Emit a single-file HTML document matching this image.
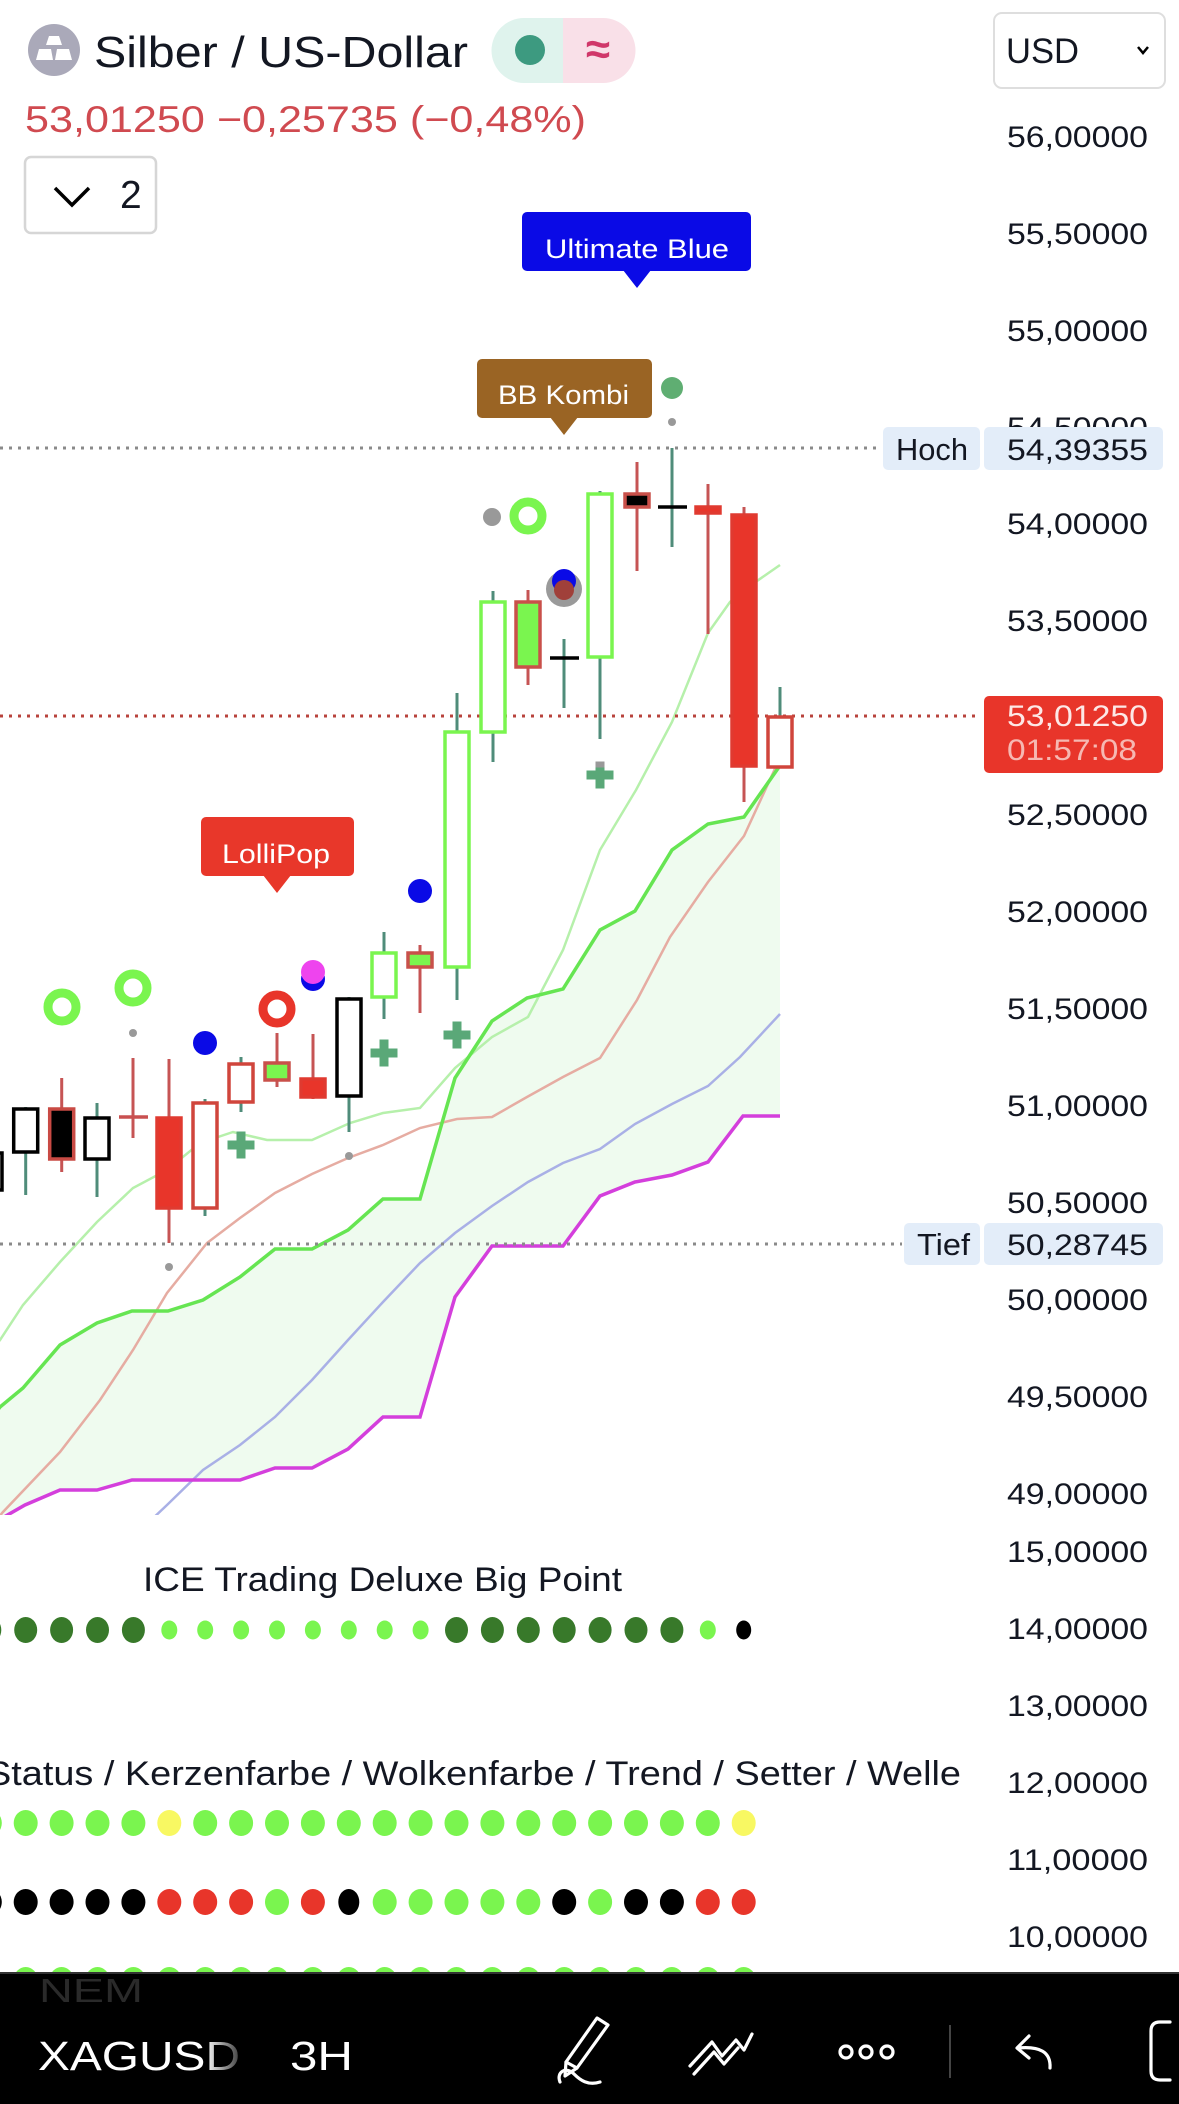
<!DOCTYPE html>
<html><head><meta charset="utf-8"><style>
html,body{margin:0;padding:0;background:#fff;}
svg{display:block;}
text{font-family:"Liberation Sans",sans-serif;}
</style></head><body>
<svg width="1179" height="2104" viewBox="0 0 1179 2104" xmlns="http://www.w3.org/2000/svg">
<defs>
<clipPath id="pane"><rect x="0" y="0" width="1000" height="1515"/></clipPath>
<linearGradient id="fade" gradientUnits="userSpaceOnUse" x1="205" y1="0" x2="245" y2="0">
<stop offset="0" stop-color="#fff"/><stop offset="1" stop-color="#222"/></linearGradient>
</defs>
<rect width="1179" height="2104" fill="#fff"/>

<!-- main pane lines -->
<g clip-path="url(#pane)">
<polygon fill="#effbef" points="-10,1420 0,1407 23,1388 60,1345 97,1323 132,1311 168,1311 203,1300 240,1277 275,1249 312,1249 348,1230 383,1199 420,1199 455,1078 492,1021 527,998 563,989 600,930 635,911 672,850 708,824 744,817 779,767 780,767 780,1116 743,1116 708,1162 672,1175 635,1182 600,1196 563,1246 492,1246 455,1297 420,1417 383,1417 348,1449 312,1468 275,1468 240,1480 132,1480 97,1490 60,1490 25,1505 -10,1525"/>
<polyline fill="none" stroke="#b6f0ab" stroke-width="2.5" points="-20,1365 0,1340 23,1305 60,1262 97,1222 133,1188 167,1170 200,1143 233,1132 267,1140 312,1140 350,1123 383,1113 420,1108 455,1068 492,1037 528,1017 563,950 600,850 636,790 672,722 708,633 730,602 744,590 780,565"/>
<polyline fill="none" stroke="#e6aca2" stroke-width="2.5" points="-20,1540 3,1512 60,1452 100,1400 133,1350 167,1293 207,1243 240,1218 275,1193 312,1174 348,1158 383,1145 420,1128 457,1119 492,1117 527,1097 563,1077 600,1058 637,1000 670,937 708,882 744,836 779,760"/>
<polyline fill="none" stroke="#a9b0e6" stroke-width="2.5" points="130,1540 167,1505 203,1470 240,1445 275,1417 312,1380 348,1340 383,1302 420,1263 455,1233 492,1206 528,1182 563,1163 600,1149 635,1124 672,1104 708,1086 740,1057 780,1014"/>
<polyline fill="none" stroke="#d43fdc" stroke-width="3.5" points="-10,1525 25,1505 60,1490 97,1490 132,1480 240,1480 275,1468 312,1468 348,1449 383,1417 420,1417 455,1297 492,1246 563,1246 600,1196 635,1182 672,1175 708,1162 743,1116 780,1116"/>
<polyline fill="none" stroke="#66e552" stroke-width="3.5" points="-10,1420 0,1407 23,1388 60,1345 97,1323 132,1311 168,1311 203,1300 240,1277 275,1249 312,1249 348,1230 383,1199 420,1199 455,1078 492,1021 527,998 563,989 600,930 635,911 672,850 708,824 744,817 779,767"/>
</g>

<!-- dotted lines -->
<line x1="0" y1="448" x2="880" y2="448" stroke="#8a8a8a" stroke-width="3" stroke-dasharray="3 6"/>
<line x1="0" y1="1244" x2="902" y2="1244" stroke="#8a8a8a" stroke-width="3" stroke-dasharray="3 6"/>
<line x1="0" y1="716" x2="976" y2="716" stroke="#b8433c" stroke-width="3" stroke-dasharray="3 6"/>

<!-- wicks -->
<g stroke-width="3">
<line x1="-10" y1="1140" x2="-10" y2="1200" stroke="#4f8c7a"/>
<line x1="25.7" y1="1107" x2="25.7" y2="1195" stroke="#4f8c7a"/>
<line x1="61.7" y1="1078" x2="61.7" y2="1172" stroke="#c65454"/>
<line x1="97" y1="1103" x2="97" y2="1197" stroke="#4f8c7a"/>
<line x1="133" y1="1058" x2="133" y2="1138" stroke="#c65454"/>
<line x1="169" y1="1059" x2="169" y2="1243" stroke="#c65454"/>
<line x1="205" y1="1099" x2="205" y2="1216" stroke="#4f8c7a"/>
<line x1="241" y1="1057" x2="241" y2="1112" stroke="#4f8c7a"/>
<line x1="277" y1="1033" x2="277" y2="1087" stroke="#c65454"/>
<line x1="313" y1="1034" x2="313" y2="1099" stroke="#c65454"/>
<line x1="349" y1="997" x2="349" y2="1132" stroke="#4f8c7a"/>
<line x1="384" y1="932" x2="384" y2="1019" stroke="#4f8c7a"/>
<line x1="420" y1="945" x2="420" y2="1013" stroke="#c65454"/>
<line x1="457" y1="693" x2="457" y2="1000" stroke="#4f8c7a"/>
<line x1="493" y1="591" x2="493" y2="762" stroke="#4f8c7a"/>
<line x1="528" y1="590" x2="528" y2="685" stroke="#c65454"/>
<line x1="564" y1="639" x2="564" y2="708" stroke="#4f8c7a"/>
<line x1="600" y1="491" x2="600" y2="739" stroke="#4f8c7a"/>
<line x1="637" y1="462" x2="637" y2="571" stroke="#c65454"/>
<line x1="672" y1="448" x2="672" y2="547" stroke="#4f8c7a"/>
<line x1="708" y1="484" x2="708" y2="634" stroke="#c65454"/>
<line x1="744" y1="507" x2="744" y2="802" stroke="#c65454"/>
<line x1="780" y1="687" x2="780" y2="717" stroke="#4f8c7a"/>
</g>

<!-- bodies -->
<g stroke-width="3.5">
<rect x="-22" y="1153" width="24" height="37" fill="#fff" stroke="#000"/>
<rect x="13.7" y="1109" width="24" height="43" fill="#fff" stroke="#000"/>
<rect x="49.7" y="1109" width="24" height="50" fill="#000" stroke="#c94a44"/>
<rect x="85" y="1118" width="24" height="41" fill="#fff" stroke="#000"/>
<line x1="119" y1="1117" x2="148" y2="1117" stroke="#c95050"/>
<rect x="157" y="1118" width="24" height="90" fill="#e8352a" stroke="#e03a30"/>
<rect x="193" y="1103" width="24" height="105" fill="#fff" stroke="#d0453c"/>
<rect x="229" y="1064" width="24" height="38" fill="#fff" stroke="#d0453c"/>
<rect x="265" y="1063" width="24" height="17" fill="#7af54f" stroke="#c9504a"/>
<rect x="301" y="1079" width="24" height="18" fill="#e8352a" stroke="#e03a30"/>
<rect x="337" y="999" width="24" height="97" fill="#fff" stroke="#000"/>
<rect x="372" y="953" width="24" height="44" fill="#fff" stroke="#7af54f"/>
<rect x="408" y="953" width="24" height="14" fill="#7af54f" stroke="#c9504a"/>
<rect x="445" y="732" width="24" height="235" fill="#fff" stroke="#7af54f"/>
<rect x="481" y="602" width="24" height="130" fill="#fff" stroke="#7af54f"/>
<rect x="516" y="602" width="24" height="65" fill="#7af54f" stroke="#c9504a"/>
<line x1="550" y1="658" x2="579" y2="658" stroke="#000"/>
<rect x="588" y="494" width="24" height="163" fill="#fff" stroke="#7af54f"/>
<rect x="625" y="494" width="24" height="13" fill="#000" stroke="#c9504a"/>
<line x1="658" y1="507" x2="687" y2="507" stroke="#000"/>
<rect x="696" y="507" width="24" height="6" fill="#e8352a" stroke="#e03a30"/>
<rect x="732" y="515" width="24" height="251" fill="#e8352a" stroke="#e03a30"/>
<rect x="768" y="717" width="24" height="50" fill="#fff" stroke="#d0453c"/>
</g>

<!-- crosses -->
<g fill="#5aa878">
<rect x="227.5" y="1140.5" width="27" height="9"/><rect x="236.5" y="1131.5" width="9" height="27"/>
<rect x="370.5" y="1048.5" width="27" height="9"/><rect x="379.5" y="1039.5" width="9" height="27"/>
<rect x="443.5" y="1030.5" width="27" height="9"/><rect x="452.5" y="1021.5" width="9" height="27"/>
<rect x="586.5" y="770.5" width="27" height="9"/><rect x="595.5" y="761.5" width="9" height="27"/>
</g>
<rect x="595.5" y="761.5" width="9" height="6" fill="#999"/>

<!-- markers -->
<circle cx="62" cy="1007" r="14" fill="none" stroke="#7af54f" stroke-width="9"/>
<circle cx="133" cy="988" r="14" fill="none" stroke="#7af54f" stroke-width="9"/>
<circle cx="133" cy="1033" r="4" fill="#999"/>
<circle cx="205" cy="1043" r="12" fill="#0a0ae6"/>
<circle cx="169" cy="1267" r="4" fill="#999"/>
<circle cx="277" cy="1009" r="14" fill="none" stroke="#e8352a" stroke-width="9"/>
<circle cx="313" cy="979" r="12" fill="#0a0ae6"/>
<circle cx="313" cy="972" r="12" fill="#ee44ee"/>
<circle cx="349" cy="1156" r="4" fill="#999"/>
<circle cx="420" cy="891" r="12" fill="#0a0ae6"/>
<circle cx="492" cy="517" r="9" fill="#999"/>
<circle cx="528" cy="516" r="14" fill="none" stroke="#7af54f" stroke-width="9"/>
<circle cx="564" cy="589" r="18" fill="#9a9a9a"/>
<circle cx="564" cy="581" r="12" fill="#0a0ae6"/>
<circle cx="564" cy="590" r="10" fill="#a0403a"/>
<circle cx="672" cy="388" r="11" fill="#5fae72"/>
<circle cx="672" cy="422" r="4" fill="#999"/>

<!-- annotations -->
<rect x="522" y="212" width="229" height="59" rx="5" fill="#0a0ae6"/>
<polygon points="623,270 651,270 637,288" fill="#0a0ae6"/>
<text x="545" y="258" font-size="27" fill="#fff" textLength="184" lengthAdjust="spacingAndGlyphs">Ultimate Blue</text>
<rect x="477" y="359" width="175" height="59" rx="5" fill="#9a6424"/>
<polygon points="550,417 578,417 564,435" fill="#9a6424"/>
<text x="498" y="404" font-size="27" fill="#fff" textLength="131" lengthAdjust="spacingAndGlyphs">BB Kombi</text>
<rect x="201" y="817" width="153" height="59" rx="5" fill="#e8372a"/>
<polygon points="263,875 291,875 277,893" fill="#e8372a"/>
<text x="222" y="863" font-size="27" fill="#fff" textLength="108" lengthAdjust="spacingAndGlyphs">LolliPop</text>

<!-- header -->
<circle cx="54" cy="50" r="26" fill="#aaa9b9"/>
<polygon points="49,36 59,36 62,45 46,45" fill="#fff"/>
<polygon points="39,49 51,49 53,60 36,60" fill="#fff"/>
<polygon points="57,49 69,49 72,60 55,60" fill="#fff"/>
<text x="94" y="67" font-size="44" fill="#131722" textLength="374" lengthAdjust="spacingAndGlyphs">Silber / US-Dollar</text>
<path d="M524,18 H563 V83 H524 A32.5,32.5 0 0 1 524,18 Z" fill="#dff3ed"/>
<path d="M563,18 H603 A32.5,32.5 0 0 1 603,83 H563 Z" fill="#f9e0e8"/>
<circle cx="530" cy="50" r="15" fill="#3d9a80"/>
<text x="598" y="64" font-size="44" font-weight="bold" fill="#d0386a" text-anchor="middle">≈</text>
<text x="25" y="132" font-size="37" fill="#d04a50" textLength="561" lengthAdjust="spacingAndGlyphs">53,01250 −0,25735 (−0,48%)</text>
<rect x="25" y="157" width="131" height="76" rx="6" fill="#fff" stroke="#d6d6d6" stroke-width="2.5"/>
<polyline points="55,188 72,205 89,188" fill="none" stroke="#000" stroke-width="3.5"/>
<text x="120" y="208" font-size="39" fill="#131722">2</text>
<rect x="994" y="13" width="171" height="75" rx="8" fill="#fff" stroke="#dedede" stroke-width="2"/>
<text x="1006" y="63" font-size="35" fill="#131722" textLength="73" lengthAdjust="spacingAndGlyphs">USD</text>
<polyline points="1138,47 1143,53 1148,47" fill="none" stroke="#000" stroke-width="2.5"/>

<!-- axis labels main -->
<g font-size="30" fill="#131722" text-anchor="end">
<text x="1148" y="147" textLength="141" lengthAdjust="spacingAndGlyphs">56,00000</text>
<text x="1148" y="244" textLength="141" lengthAdjust="spacingAndGlyphs">55,50000</text>
<text x="1148" y="341" textLength="141" lengthAdjust="spacingAndGlyphs">55,00000</text>
<text x="1148" y="438" textLength="141" lengthAdjust="spacingAndGlyphs">54,50000</text>
<text x="1148" y="534" textLength="141" lengthAdjust="spacingAndGlyphs">54,00000</text>
<text x="1148" y="631" textLength="141" lengthAdjust="spacingAndGlyphs">53,50000</text>
<text x="1148" y="825" textLength="141" lengthAdjust="spacingAndGlyphs">52,50000</text>
<text x="1148" y="922" textLength="141" lengthAdjust="spacingAndGlyphs">52,00000</text>
<text x="1148" y="1019" textLength="141" lengthAdjust="spacingAndGlyphs">51,50000</text>
<text x="1148" y="1116" textLength="141" lengthAdjust="spacingAndGlyphs">51,00000</text>
<text x="1148" y="1213" textLength="141" lengthAdjust="spacingAndGlyphs">50,50000</text>
<text x="1148" y="1310" textLength="141" lengthAdjust="spacingAndGlyphs">50,00000</text>
<text x="1148" y="1407" textLength="141" lengthAdjust="spacingAndGlyphs">49,50000</text>
<text x="1148" y="1504" textLength="141" lengthAdjust="spacingAndGlyphs">49,00000</text>
<text x="1148" y="1562" textLength="141" lengthAdjust="spacingAndGlyphs">15,00000</text>
<text x="1148" y="1639" textLength="141" lengthAdjust="spacingAndGlyphs">14,00000</text>
<text x="1148" y="1716" textLength="141" lengthAdjust="spacingAndGlyphs">13,00000</text>
<text x="1148" y="1793" textLength="141" lengthAdjust="spacingAndGlyphs">12,00000</text>
<text x="1148" y="1870" textLength="141" lengthAdjust="spacingAndGlyphs">11,00000</text>
<text x="1148" y="1947" textLength="141" lengthAdjust="spacingAndGlyphs">10,00000</text>
</g>

<!-- Hoch / Tief / price -->
<rect x="883" y="427" width="97" height="43" rx="5" fill="#e3edf9"/>
<rect x="984" y="427" width="179" height="43" rx="5" fill="#e3edf9"/>
<text x="896" y="460" font-size="31" fill="#131722" textLength="72" lengthAdjust="spacingAndGlyphs">Hoch</text>
<text x="1148" y="460" font-size="30" fill="#131722" text-anchor="end" textLength="141" lengthAdjust="spacingAndGlyphs">54,39355</text>
<rect x="904" y="1223" width="76" height="42" rx="5" fill="#e3edf9"/>
<rect x="984" y="1223" width="179" height="42" rx="5" fill="#e3edf9"/>
<text x="917" y="1255" font-size="31" fill="#131722" textLength="53" lengthAdjust="spacingAndGlyphs">Tief</text>
<text x="1148" y="1255" font-size="30" fill="#131722" text-anchor="end" textLength="141" lengthAdjust="spacingAndGlyphs">50,28745</text>
<rect x="984" y="696" width="179" height="77" rx="5" fill="#e8352a"/>
<text x="1148" y="726" font-size="30" fill="#fde8e6" text-anchor="end" textLength="141" lengthAdjust="spacingAndGlyphs">53,01250</text>
<text x="1007" y="760" font-size="30" fill="#f6b8b2" textLength="130" lengthAdjust="spacingAndGlyphs">01:57:08</text>

<!-- lower pane -->
<text x="143" y="1591" font-size="34" fill="#131722" textLength="479" lengthAdjust="spacingAndGlyphs">ICE Trading Deluxe Big Point</text>
<text x="961" y="1785" font-size="34" fill="#131722" text-anchor="end" textLength="975" lengthAdjust="spacingAndGlyphs">Status / Kerzenfarbe / Wolkenfarbe / Trend / Setter / Welle</text>

<!-- row 1 -->
<g>
<ellipse cx="-10.2" cy="1630" rx="11.5" ry="13" fill="#38792a"/>
<ellipse cx="25.7" cy="1630" rx="11.5" ry="13" fill="#38792a"/>
<ellipse cx="61.6" cy="1630" rx="11.5" ry="13" fill="#38792a"/>
<ellipse cx="97.5" cy="1630" rx="11.5" ry="13" fill="#38792a"/>
<ellipse cx="133.4" cy="1630" rx="11.5" ry="13" fill="#38792a"/>
<ellipse cx="169.3" cy="1630" rx="8" ry="9.5" fill="#7af54f"/>
<ellipse cx="205.2" cy="1630" rx="8" ry="9.5" fill="#7af54f"/>
<ellipse cx="241.1" cy="1630" rx="8" ry="9.5" fill="#7af54f"/>
<ellipse cx="277" cy="1630" rx="8" ry="9.5" fill="#7af54f"/>
<ellipse cx="312.9" cy="1630" rx="8" ry="9.5" fill="#7af54f"/>
<ellipse cx="348.8" cy="1630" rx="8" ry="9.5" fill="#7af54f"/>
<ellipse cx="384.7" cy="1630" rx="8" ry="9.5" fill="#7af54f"/>
<ellipse cx="420.6" cy="1630" rx="8" ry="9.5" fill="#7af54f"/>
<ellipse cx="456.5" cy="1630" rx="11.5" ry="13" fill="#38792a"/>
<ellipse cx="492.4" cy="1630" rx="11.5" ry="13" fill="#38792a"/>
<ellipse cx="528.3" cy="1630" rx="11.5" ry="13" fill="#38792a"/>
<ellipse cx="564.2" cy="1630" rx="11.5" ry="13" fill="#38792a"/>
<ellipse cx="600.1" cy="1630" rx="11.5" ry="13" fill="#38792a"/>
<ellipse cx="636" cy="1630" rx="11.5" ry="13" fill="#38792a"/>
<ellipse cx="671.9" cy="1630" rx="11.5" ry="13" fill="#38792a"/>
<ellipse cx="707.8" cy="1630" rx="8" ry="9.5" fill="#7af54f"/>
<ellipse cx="743.7" cy="1630" rx="7.5" ry="9.5" fill="#000"/>
</g>
<!-- row 2 -->
<g fill="#7af54f">
<ellipse cx="-10.2" cy="1823" rx="12" ry="13"/>
<ellipse cx="25.7" cy="1823" rx="12" ry="13"/>
<ellipse cx="61.6" cy="1823" rx="12" ry="13"/>
<ellipse cx="97.5" cy="1823" rx="12" ry="13"/>
<ellipse cx="133.4" cy="1823" rx="12" ry="13"/>
<ellipse cx="169.3" cy="1823" rx="12" ry="13" fill="#f8f862"/>
<ellipse cx="205.2" cy="1823" rx="12" ry="13"/>
<ellipse cx="241.1" cy="1823" rx="12" ry="13"/>
<ellipse cx="277" cy="1823" rx="12" ry="13"/>
<ellipse cx="312.9" cy="1823" rx="12" ry="13"/>
<ellipse cx="348.8" cy="1823" rx="12" ry="13"/>
<ellipse cx="384.7" cy="1823" rx="12" ry="13"/>
<ellipse cx="420.6" cy="1823" rx="12" ry="13"/>
<ellipse cx="456.5" cy="1823" rx="12" ry="13"/>
<ellipse cx="492.4" cy="1823" rx="12" ry="13"/>
<ellipse cx="528.3" cy="1823" rx="12" ry="13"/>
<ellipse cx="564.2" cy="1823" rx="12" ry="13"/>
<ellipse cx="600.1" cy="1823" rx="12" ry="13"/>
<ellipse cx="636" cy="1823" rx="12" ry="13"/>
<ellipse cx="671.9" cy="1823" rx="12" ry="13"/>
<ellipse cx="707.8" cy="1823" rx="12" ry="13"/>
<ellipse cx="743.7" cy="1823" rx="12" ry="13" fill="#f8f862"/>
</g>
<!-- row 3 -->
<g>
<ellipse cx="-10.2" cy="1902" rx="12" ry="13" fill="#000"/>
<ellipse cx="25.7" cy="1902" rx="12" ry="13" fill="#000"/>
<ellipse cx="61.6" cy="1902" rx="12" ry="13" fill="#000"/>
<ellipse cx="97.5" cy="1902" rx="12" ry="13" fill="#000"/>
<ellipse cx="133.4" cy="1902" rx="12" ry="13" fill="#000"/>
<ellipse cx="169.3" cy="1902" rx="12" ry="13" fill="#e8352a"/>
<ellipse cx="205.2" cy="1902" rx="12" ry="13" fill="#e8352a"/>
<ellipse cx="241.1" cy="1902" rx="12" ry="13" fill="#e8352a"/>
<ellipse cx="277" cy="1902" rx="12" ry="13" fill="#7af54f"/>
<ellipse cx="312.9" cy="1902" rx="12" ry="13" fill="#e8352a"/>
<ellipse cx="348.8" cy="1902" rx="10.5" ry="13" fill="#000"/>
<ellipse cx="384.7" cy="1902" rx="12" ry="13" fill="#7af54f"/>
<ellipse cx="420.6" cy="1902" rx="12" ry="13" fill="#7af54f"/>
<ellipse cx="456.5" cy="1902" rx="12" ry="13" fill="#7af54f"/>
<ellipse cx="492.4" cy="1902" rx="12" ry="13" fill="#7af54f"/>
<ellipse cx="528.3" cy="1902" rx="12" ry="13" fill="#7af54f"/>
<ellipse cx="564.2" cy="1902" rx="12" ry="13" fill="#000"/>
<ellipse cx="600.1" cy="1902" rx="12" ry="13" fill="#7af54f"/>
<ellipse cx="636" cy="1902" rx="12" ry="13" fill="#000"/>
<ellipse cx="671.9" cy="1902" rx="12" ry="13" fill="#000"/>
<ellipse cx="707.8" cy="1902" rx="12" ry="13" fill="#e8352a"/>
<ellipse cx="743.7" cy="1902" rx="12" ry="13" fill="#e8352a"/>
</g>
<!-- row 4 -->
<g fill="#7af54f">
<ellipse cx="-10.2" cy="1980" rx="12" ry="13"/><ellipse cx="25.7" cy="1980" rx="12" ry="13"/><ellipse cx="61.6" cy="1980" rx="12" ry="13"/><ellipse cx="97.5" cy="1980" rx="12" ry="13"/><ellipse cx="133.4" cy="1980" rx="12" ry="13"/><ellipse cx="169.3" cy="1980" rx="12" ry="13"/><ellipse cx="205.2" cy="1980" rx="12" ry="13"/><ellipse cx="241.1" cy="1980" rx="12" ry="13"/><ellipse cx="277" cy="1980" rx="12" ry="13"/><ellipse cx="312.9" cy="1980" rx="12" ry="13"/><ellipse cx="348.8" cy="1980" rx="12" ry="13"/><ellipse cx="384.7" cy="1980" rx="12" ry="13"/><ellipse cx="420.6" cy="1980" rx="12" ry="13"/><ellipse cx="456.5" cy="1980" rx="12" ry="13"/><ellipse cx="492.4" cy="1980" rx="12" ry="13"/><ellipse cx="528.3" cy="1980" rx="12" ry="13"/><ellipse cx="564.2" cy="1980" rx="12" ry="13"/><ellipse cx="600.1" cy="1980" rx="12" ry="13"/><ellipse cx="636" cy="1980" rx="12" ry="13"/><ellipse cx="671.9" cy="1980" rx="12" ry="13"/><ellipse cx="707.8" cy="1980" rx="12" ry="13"/><ellipse cx="743.7" cy="1980" rx="12" ry="13"/>
</g>

<!-- bottom bar -->
<rect x="0" y="1972" width="1179" height="132" fill="#000"/>
<line x1="0" y1="1973" x2="1179" y2="1973" stroke="#333" stroke-width="2"/>
<text x="39" y="2002" font-size="33" fill="#2a2a2a" textLength="104" lengthAdjust="spacingAndGlyphs">NEM</text>
<text x="38" y="2070" font-size="41" fill="url(#fade)" textLength="202" lengthAdjust="spacingAndGlyphs">XAGUSD</text>
<text x="290" y="2070" font-size="41" fill="#fff" textLength="63" lengthAdjust="spacingAndGlyphs">3H</text>
<g fill="none" stroke="#fff" stroke-width="3.2" stroke-linecap="round" stroke-linejoin="round">
<polygon points="597,2018 608,2025 577,2068 565,2076 566,2062"/>
<line x1="566" y1="2062" x2="577" y2="2068"/>
<path d="M560,2082 C556,2072 566,2066 574,2074 C580,2080 588,2086 600,2082"/>
<path d="M690,2066 L712,2042 L722,2056 L736,2040 L744,2050 L752,2034"/>
<path d="M694,2074 L714,2052 L724,2064 L738,2048"/>
<circle cx="846" cy="2052" r="6"/>
<circle cx="866" cy="2052" r="6"/>
<circle cx="887" cy="2052" r="6"/>
<path d="M1029,2036 L1017,2048 L1029,2058"/>
<path d="M1018,2048 C1040,2046 1051,2052 1050,2068"/>
<path d="M1170,2022 L1160,2022 Q1151,2022 1151,2031 L1151,2071 Q1151,2080 1160,2080 L1170,2080"/>
</g>
<line x1="950" y1="2025" x2="950" y2="2078" stroke="#444" stroke-width="2"/>
</svg>
</body></html>
